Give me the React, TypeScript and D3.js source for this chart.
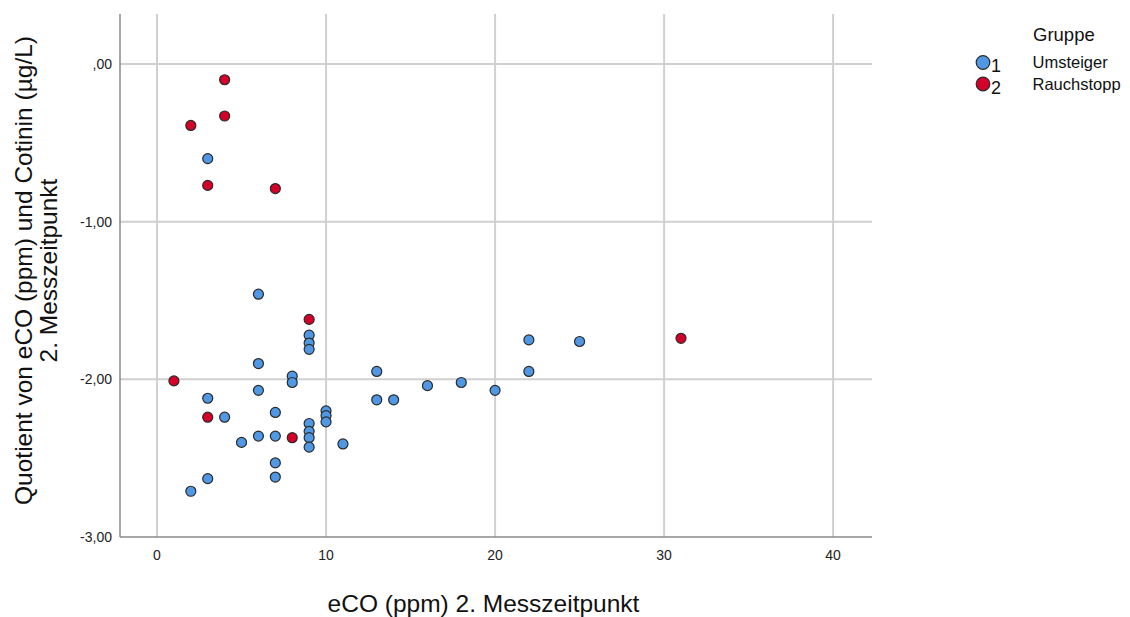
import React from "react";
import * as d3 from "d3";

const blueX = [3, 6, 9, 9, 9, 6, 8, 8, 6, 3, 4, 7, 10, 10, 10, 9, 9, 9, 9, 6, 7, 5, 11, 7, 7, 3, 2, 13, 13, 14, 16, 18, 20, 22, 22, 25];
const blueY = [-0.60, -1.46, -1.72, -1.77, -1.81, -1.90, -1.98, -2.02, -2.07, -2.12, -2.24, -2.21, -2.20, -2.23, -2.27, -2.28, -2.33, -2.37, -2.43, -2.36, -2.36, -2.40, -2.41, -2.53, -2.62, -2.63, -2.71, -1.95, -2.13, -2.13, -2.04, -2.02, -2.07, -1.75, -1.95, -1.76];
const redX = [4, 4, 2, 3, 7, 9, 1, 3, 8, 31];
const redY = [-0.10, -0.33, -0.39, -0.77, -0.79, -1.62, -2.01, -2.24, -2.37, -1.74];

const xTicks = [0, 10, 20, 30, 40];
const yTicks = [0, -1, -2, -3];
const groupCodes = ["1", "2"];
const groupNames = ["Umsteiger", "Rauchstopp"];

const BLUE = "#5097E4";
const RED = "#D5002A";

export default function App() {
  const left = 120, right = 872, top = 14, bottom = 537;
  const x = d3.scaleLinear().domain([-2.19, 42.3]).range([left, right]);
  const y = d3.scaleLinear().domain([-3, 0.317]).range([bottom, top]);
  const fmt = (v: number) => {
    if (v === 0) return ",00";
    return v.toFixed(2).replace(".", ",");
  };
  const font = "Arial, 'Liberation Sans', sans-serif";
  const blue = blueX.map((v, i) => [v, blueY[i]]);
  const red = redX.map((v, i) => [v, redY[i]]);
  return (
    <svg width={1130} height={617} style={{ position: "absolute", left: 0, top: 0 }} fontFamily={font}>
      <rect width={1130} height={617} fill="#fff" />
      {xTicks.map((t) => (
        <line key={"gx" + t} x1={x(t)} x2={x(t)} y1={top} y2={bottom} stroke="#d0d0d0" strokeWidth={2} />
      ))}
      {yTicks.slice(0, 3).map((t) => (
        <line key={"gy" + t} x1={left} x2={right} y1={y(t)} y2={y(t)} stroke="#d0d0d0" strokeWidth={2} />
      ))}
      <line x1={left} x2={left} y1={top} y2={bottom} stroke="#8a8a8a" strokeWidth={1.5} />
      <line x1={left} x2={right} y1={bottom} y2={bottom} stroke="#8a8a8a" strokeWidth={1.5} />
      {yTicks.map((t) => (
        <text key={"ty" + t} x={112} y={y(t)} dy="0.35em" textAnchor="end" fontSize={14} fill="#222">
          {fmt(t)}
        </text>
      ))}
      {xTicks.map((t) => (
        <text key={"tx" + t} x={x(t)} y={560} textAnchor="middle" fontSize={14} fill="#222">
          {t}
        </text>
      ))}
      {blue.map((d, i) => (
        <circle key={"b" + i} cx={x(d[0])} cy={y(d[1])} r={5} fill={BLUE} stroke="#2a2a2a" strokeWidth={1.2} />
      ))}
      {red.map((d, i) => (
        <circle key={"r" + i} cx={x(d[0])} cy={y(d[1])} r={5} fill={RED} stroke="#2a2a2a" strokeWidth={1.2} />
      ))}
      <text x={483.5} y={612} textAnchor="middle" fontSize={24.5} fill="#111">
        eCO (ppm) 2. Messzeitpunkt
      </text>
      <g transform="translate(32,270.5) rotate(-90)">
        <text x={0} y={0} textAnchor="middle" fontSize={24.5} fill="#111">
          Quotient von eCO (ppm) und Cotinin (µg/L)
        </text>
        <text x={0} y={25} textAnchor="middle" fontSize={24.5} fill="#111">
          2. Messzeitpunkt
        </text>
      </g>
      <text x={1033} y={41} fontSize={18.5} fill="#111">Gruppe</text>
      {groupCodes.map((c, i) => (
        <g key={"lg" + i}>
          <circle cx={983} cy={62.5 + i * 21.5} r={6.8} fill={i === 0 ? BLUE : RED} stroke="#2a2a2a" strokeWidth={1.2} />
          <text x={991} y={72 + i * 21.5} fontSize={18} fill="#111">{c}</text>
          <text x={1032.5} y={68 + i * 21.5} fontSize={16.5} fill="#111">{groupNames[i]}</text>
        </g>
      ))}
    </svg>
  );
}
